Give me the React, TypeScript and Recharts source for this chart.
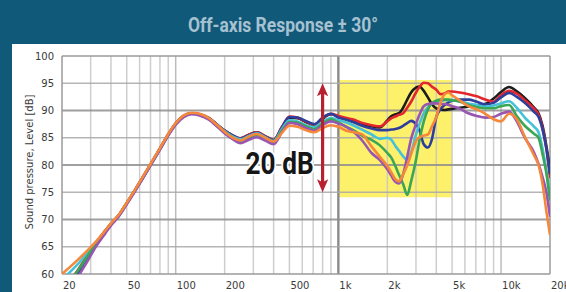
import React from 'react'
import { LineChart, Line, XAxis, YAxis, ReferenceLine, ReferenceArea } from 'recharts'

// frequency points (Hz), shared by all traces
const FREQS = [
  20, 25, 28, 32, 36, 40, 45, 50, 56, 63, 71, 80, 90, 100, 112, 125, 140, 160, 180, 200,
  225, 250, 280, 315, 355, 400, 450, 500, 560, 630, 710, 800, 900,
  1000, 1120, 1250, 1400, 1600, 1800, 2000, 2120, 2240, 2360, 2500, 2650, 2800, 3000, 3150,
  3350, 3550, 3750, 4000, 4250, 4500, 4750, 5000,
  5600, 6300, 7100, 8000, 9000, 10000, 11200, 12500, 14000, 16000, 17000, 18000, 19000, 20000,
]

const BLACK = [
  56.5, 60.2, 62.8, 65.4, 67.5, 69.2, 70.9, 73.0, 75.3, 77.8, 80.4, 83.0, 85.6, 87.6, 89.0, 89.5, 89.3, 88.6, 87.4,
  86.3, 85.4, 84.9, 85.5, 86.0, 85.3, 84.6, 86.9, 88.7, 88.6, 87.9, 87.3, 88.5, 89.3,
  88.9, 88.4, 88.0, 87.5, 87.1, 86.9, 88.2, 89.0, 89.3, 89.5, 90.5, 92.0, 93.3, 94.2, 94.4, 93.6, 92.4, 91.2, 90.4, 90.2, 90.1, 90.2, 90.3,
  90.5, 90.7, 90.9, 91.2, 92.2, 93.4, 94.3, 93.5, 92.3, 90.5, 89.5, 87.2, 83.5, 79.1,
]
const RED = [
  57.0, 60.7, 63.0, 65.5, 67.5, 69.2, 70.9, 73.0, 75.3, 77.8, 80.4, 83.0, 85.6, 87.6, 89.0, 89.5, 89.3, 88.6, 87.4,
  86.3, 85.4, 84.9, 85.5, 86.0, 85.3, 84.6, 87.0, 88.9, 88.7, 88.0, 87.4, 88.6, 89.4,
  89.0, 88.6, 88.3, 87.7, 87.3, 87.1, 88.0, 88.6, 88.9, 89.2, 89.5, 90.5, 91.6, 93.3, 94.3, 95.1, 95.0, 94.4, 93.8, 93.0, 93.1, 93.5, 93.5,
  93.3, 93.0, 92.6, 92.0, 91.6, 92.8, 93.6, 93.1, 91.9, 90.3, 89.2, 86.8, 83.0, 77.6,
]
const BLUE = [
  56.5, 60.3, 62.6, 65.3, 67.5, 69.2, 70.9, 73.0, 75.3, 77.8, 80.4, 83.0, 85.6, 87.6, 89.0, 89.5, 89.3, 88.6, 87.4,
  86.3, 85.4, 84.8, 85.4, 85.9, 85.2, 84.5, 86.9, 88.8, 88.7, 88.1, 87.5, 88.7, 89.4,
  88.7, 88.3, 87.8, 87.2, 86.7, 86.4, 86.4, 86.5, 86.6, 86.8, 87.2, 87.7, 88.1, 87.5, 86.4, 83.8, 83.2, 84.6, 88.8, 90.3, 91.0, 91.5, 91.8,
  92.0, 92.0, 91.6, 91.1, 91.4, 92.4, 93.2, 92.5, 91.4, 89.7, 88.8, 86.5, 83.0, 78.3,
]
const CYAN = [
  59.0, 61.8, 63.5, 65.6, 67.4, 69.1, 70.8, 72.9, 75.2, 77.7, 80.3, 82.9, 85.5, 87.5, 88.9, 89.4, 89.2, 88.5, 87.3,
  86.2, 85.2, 84.7, 85.3, 85.8, 85.1, 84.4, 86.6, 88.2, 88.0, 87.3, 86.9, 87.9, 88.6,
  88.2, 87.8, 87.2, 86.5, 85.6, 84.8, 85.0, 84.6, 83.5, 82.6, 81.6, 80.9, 82.3, 85.6, 87.5, 89.5, 90.6, 91.2, 91.5, 91.7, 91.9, 91.9, 91.9,
  91.7, 91.3, 91.0, 90.7, 90.9, 91.3, 91.7, 90.5, 88.7, 87.0, 86.0, 83.0, 79.0, 74.2,
]
const GREEN = [
  57.0, 60.6, 62.8, 65.4, 67.4, 69.1, 70.8, 72.9, 75.2, 77.7, 80.3, 82.9, 85.5, 87.5, 88.9, 89.4, 89.2, 88.5, 87.2,
  86.1, 85.0, 84.4, 85.0, 85.5, 84.9, 84.2, 86.3, 87.9, 87.8, 87.1, 86.6, 87.6, 88.4,
  87.8, 87.0, 86.3, 85.4, 84.6, 83.6, 82.2, 81.3, 79.8, 78.2, 76.5, 74.5, 77.0, 80.9, 84.5, 88.0, 90.2, 91.3, 91.8, 92.0, 92.0, 92.0, 91.9,
  91.6, 91.0, 90.6, 90.4, 90.4, 90.8, 91.0, 89.0, 87.2, 85.7, 85.0, 82.0, 78.5, 73.5,
]
const PURPLE = [
  56.0, 59.5, 61.8, 64.8, 67.0, 68.9, 70.7, 72.8, 75.1, 77.6, 80.2, 82.8, 85.4, 87.4, 88.8, 89.3, 89.1, 88.3, 87.0,
  85.8, 84.7, 84.0, 84.6, 85.1, 84.5, 83.8, 86.0, 87.7, 87.5, 86.8, 86.3, 87.3, 88.0,
  87.6, 87.0, 86.0, 84.5, 82.2, 80.9, 79.2, 78.0, 76.9, 76.6, 78.3, 81.5, 84.8, 87.5, 89.2, 90.8, 91.2, 91.3, 91.3, 91.2, 91.2, 91.0, 90.8,
  90.3, 89.5, 89.0, 88.7, 88.8, 89.4, 89.8, 88.0, 85.0, 82.2, 80.2, 77.8, 75.0, 70.5,
]
const ORANGE = [
  60.0, 62.6, 64.0, 65.8, 67.6, 69.3, 71.0, 73.1, 75.4, 77.9, 80.5, 83.1, 85.7, 87.7, 89.1, 89.6, 89.4, 88.6, 87.3,
  86.1, 85.0, 84.5, 85.2, 85.7, 85.0, 84.3, 85.9, 87.2, 87.0, 86.4, 86.0, 86.8, 87.3,
  87.0, 86.3, 86.0, 85.6, 83.4, 81.5, 79.8, 78.6, 77.4, 77.0, 78.3, 79.9, 82.0, 84.4, 85.1, 85.4, 85.6, 87.0, 88.8, 91.5, 93.0, 93.3, 92.8,
  91.8, 90.8, 90.2, 89.4, 88.4, 88.0, 89.4, 88.4, 85.2, 81.7, 80.0, 76.5, 71.5, 67.2,
]

const SERIES = [
  { key: 'black', values: BLACK, color: '#1c1c1c' },
  { key: 'red', values: RED, color: '#e2262d' },
  { key: 'blue', values: BLUE, color: '#2e3e9c' },
  { key: 'cyan', values: CYAN, color: '#45c2da' },
  { key: 'green', values: GREEN, color: '#3ba656' },
  { key: 'purple', values: PURPLE, color: '#9856b2' },
  { key: 'orange', values: ORANGE, color: '#f5883a' },
]

const X_TICKS = [20, 50, 100, 200, 500, 1000, 2000, 5000, 10000, 20000]
const Y_TICKS = [60, 65, 70, 75, 80, 85, 90, 95, 100]
const GRID_FREQS = [
  30, 40, 50, 60, 70, 80, 90, 100, 200, 300, 400, 500, 600, 700, 800, 900,
  2000, 3000, 4000, 5000, 6000, 7000, 8000, 9000, 10000,
]
const GRID_DB = [65, 70, 75, 80, 85, 90, 95]

// highlighted band and 20 dB marker (data units)
const BAND = { f1: 1000, f2: 5000, lo: 74.1, hi: 95.6 }
const SPAN = { f: 800, lo: 75, hi: 95 }

const data = FREQS.map((f, i) => {
  const row: Record<string, number> = { f }
  SERIES.forEach((s) => {
    row[s.key] = s.values[i]
  })
  return row
})

const fmtHz = (v: number) => (v >= 1000 ? `${v / 1000}k` : `${v}`)
const TICK_FONT = 'DejaVu Sans, Verdana, sans-serif'
const ARROW_RED = '#b8202f'

const XTick = (props: any) => {
  const { x, y, payload } = props
  return (
    <text x={x + 1} y={y + 15} textAnchor="start" fontSize={10} fontFamily={TICK_FONT} fill="#3a3a3a">
      {fmtHz(payload.value)}
    </text>
  )
}

const YTick = (props: any) => {
  const { x, y, payload } = props
  return (
    <text x={x} y={y + 3.6} textAnchor="end" fontSize={10} fontFamily={TICK_FONT} fill="#3a3a3a">
      {payload.value}
    </text>
  )
}

const Arrow = (props: any) => {
  const { x1, y1, y2 } = props
  const top = Math.min(y1, y2)
  const bot = Math.max(y1, y2)
  const x = x1
  return (
    <g>
      <text
        x={x - 9}
        y={bot - 18}
        textAnchor="end"
        fontFamily="Roboto, sans-serif"
        fontWeight={700}
        fontSize={31}
        textLength={68}
        lengthAdjust="spacingAndGlyphs"
        fill="#161616"
        stroke="#fff"
        strokeWidth={4}
        paintOrder="stroke"
      >
        20 dB
      </text>
      <line x1={x} x2={x} y1={top + 8} y2={bot - 8} stroke={ARROW_RED} strokeWidth={3.2} />
      <path d={`M${x},${top} L${x - 5.6},${top + 13} L${x},${top + 10} L${x + 5.6},${top + 13} Z`} fill={ARROW_RED} />
      <path d={`M${x},${bot} L${x - 5.6},${bot - 13} L${x},${bot - 10} L${x + 5.6},${bot - 13} Z`} fill={ARROW_RED} />
    </g>
  )
}

export default function App() {
  return (
    <div style={{ position: 'absolute', left: 0, top: 0, width: 566, height: 292, background: '#105979', overflow: 'hidden' }}>
      <svg width={566} height={44} style={{ position: 'absolute', left: 0, top: 0 }}>
        <text
          x={283}
          y={32}
          textAnchor="middle"
          fontFamily="Roboto, sans-serif"
          fontWeight={700}
          fontSize={20}
          textLength={190}
          lengthAdjust="spacingAndGlyphs"
          fill="#a7c1d1"
        >
          Off-axis Response ± 30°
        </text>
      </svg>
      <div style={{ position: 'absolute', left: 12, top: 44, width: 554, height: 248, background: '#fff' }} />
      <div style={{ position: 'absolute', left: 0, top: 0 }}>
        <LineChart width={566} height={292} data={data} margin={{ top: 56, right: 16, bottom: 0, left: 12 }}>
          <XAxis
            dataKey="f"
            type="number"
            scale="log"
            domain={[20, 20000]}
            ticks={X_TICKS}
            allowDataOverflow
            axisLine={false}
            tickLine={false}
            tickSize={0}
            tickMargin={0}
            height={18}
            tick={<XTick />}
            interval={0}
          />
          <YAxis
            type="number"
            domain={[60, 100]}
            ticks={Y_TICKS}
            allowDataOverflow
            axisLine={false}
            tickLine={false}
            tickSize={0}
            tickMargin={8}
            width={50}
            tick={<YTick />}
            interval={0}
            label={{
              content: () => (
                <text
                  x={33}
                  y={162}
                  transform="rotate(-90 33 162)"
                  textAnchor="middle"
                  fontSize={10}
                  fontFamily={TICK_FONT}
                  fill="#3a3a3a"
                >
                  Sound pressure, Level  [dB]
                </text>
              ),
            }}
          />
          <ReferenceArea x1={BAND.f1} x2={BAND.f2} y1={BAND.lo} y2={BAND.hi} fill="#fdf06a" fillOpacity={1} stroke="none" />
          {GRID_FREQS.map((f) => (
            <ReferenceLine
              key={`gx-${f}`}
              x={f}
              stroke={f === 100 || f === 10000 ? '#b0b0b0' : '#c6c6c6'}
              strokeWidth={1.5}
              strokeOpacity={0.85}
            />
          ))}
          <ReferenceLine x={1000} stroke="#8a8a8a" strokeWidth={2.4} />
          {GRID_DB.map((v) => (
            <ReferenceLine
              key={`gy-${v}`}
              y={v}
              stroke={v % 10 === 0 ? '#8e8e8e' : '#a8a8a8'}
              strokeWidth={v % 10 === 0 ? 2 : 1.5}
              strokeOpacity={0.85}
            />
          ))}
          <ReferenceLine x={20} stroke="#9a9a9a" strokeWidth={1.5} />
          <ReferenceLine x={20000} stroke="#9a9a9a" strokeWidth={1.5} />
          <ReferenceLine y={60} stroke="#9a9a9a" strokeWidth={1.5} />
          <ReferenceLine y={100} stroke="#9a9a9a" strokeWidth={1.5} />
          {SERIES.map((s) => (
            <Line
              key={s.key}
              dataKey={s.key}
              type="monotone"
              stroke={s.color}
              strokeWidth={2.6}
              strokeLinejoin="round"
              dot={false}
              activeDot={false}
              isAnimationActive={false}
            />
          ))}
          <ReferenceLine
            segment={[
              { x: SPAN.f, y: SPAN.lo },
              { x: SPAN.f, y: SPAN.hi },
            ]}
            shape={<Arrow />}
          />
        </LineChart>
      </div>
    </div>
  )
}
